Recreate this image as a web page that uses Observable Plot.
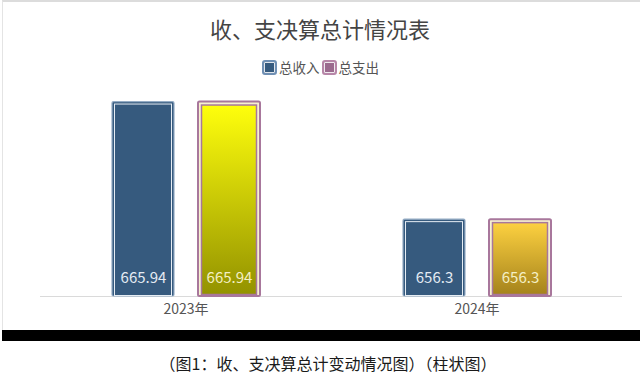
<!DOCTYPE html>
<html><head><meta charset="utf-8">
<script src="https://cdn.jsdelivr.net/npm/d3@7"></script>
<script src="https://cdn.jsdelivr.net/npm/@observablehq/plot@0.6"></script>
<style>
body{margin:0;background:#fff;font-family:"Noto Sans CJK SC","Noto Sans",sans-serif;}
#wrap{position:relative;width:640px;height:382px;overflow:hidden;background:#fff;}
#card{position:absolute;left:2px;top:0;width:638px;height:330px;border-top:2px solid #dcdcdc;border-left:1px solid #e4e4e4;box-sizing:border-box;}
#band{position:absolute;left:2px;top:330px;width:638px;height:11px;background:#000;}
#chart{position:absolute;left:0;top:0;}
#title{position:absolute;top:17px;left:0;width:640px;text-align:center;font-size:22px;line-height:22px;color:#444;}
#legend{position:absolute;top:60px;left:0;width:640px;display:flex;justify-content:center;align-items:center;font-size:13.5px;line-height:15px;color:#555;padding-left:1px;box-sizing:border-box;}
#legend .it{display:flex;align-items:center;margin:0 1px;}
#legend .ic{width:15px;height:15px;box-sizing:border-box;border-radius:3px;margin-right:2px;}
#caption{position:absolute;top:354px;left:8px;width:640px;text-align:center;font-size:16px;line-height:18px;color:#1a1a1a;}
</style></head>
<body>
<div id="wrap">
  <div id="card"></div>
  <div id="chart"></div>
  <div id="title"></div>
  <div id="legend"></div>
  <div id="band"></div>
  <div id="caption"></div>
</div>
<script>
const titleText = "收、支决算总计情况表";
const captionText = "（图1：收、支决算总计变动情况图）（柱状图）";
const years = ["2023年", "2024年"];
const seriesNames = ["总收入", "总支出"];
const incomeValues = [665.94, 656.3];
const expenseValues = [665.94, 656.3];
const seriesColors = ["#365a7e", "#9b6a8e"];
const legendBorders = ["#6f8fb3", "#b786a8"];
const gradTop = ["#ffff0c", "#fdd140"];
const gradBottom = ["#939200", "#a5831c"];
const yMin = 650, yMax = 670;

document.getElementById("title").textContent = titleText;
document.getElementById("caption").textContent = captionText;

const legend = document.getElementById("legend");
seriesNames.forEach((s, i) => {
  const it = document.createElement("div"); it.className = "it";
  const ic = document.createElement("div"); ic.className = "ic";
  ic.style.background = seriesColors[i];
  ic.style.border = "2px solid " + legendBorders[i];
  ic.style.boxShadow = "inset 0 0 0 1px rgba(255,255,255,0.85)";
  const tx = document.createElement("span"); tx.textContent = s;
  it.appendChild(ic); it.appendChild(tx); legend.appendChild(it);
});

const data = [];
years.forEach((y, i) => {
  data.push({year: y, series: seriesNames[0], value: incomeValues[i], idx: i});
  data.push({year: y, series: seriesNames[1], value: expenseValues[i], idx: i});
});
const inc = data.filter(d => d.series === seriesNames[0]);
const exp = data.filter(d => d.series === seriesNames[1]);

const chart = Plot.plot({
  width: 640,
  height: 330,
  marginLeft: 39,
  marginRight: 18,
  marginTop: 52,
  marginBottom: 34,
  style: {background: "transparent", fontFamily: "'Noto Sans CJK SC', sans-serif", overflow: "visible"},
  fx: {domain: years, padding: 0, label: null},
  x: {domain: seriesNames, paddingInner: 0.283, paddingOuter: 0.827, axis: null},
  y: {domain: [yMin, yMax], axis: null},
  marks: [
    Plot.ruleY([yMin], {stroke: "#dadada", strokeWidth: 1}),
    // income bars
    Plot.barY(inc, {fx: "year", x: "series", y1: () => yMin, y2: "value",
      fill: seriesColors[0], stroke: "#93abc4", strokeWidth: 1.2, rx: 1.5}),
    Plot.barY(inc, {fx: "year", x: "series", y1: () => yMin, y2: "value",
      insetLeft: 2.5, insetRight: 2.5, insetTop: 2.5, insetBottom: 0.5,
      fill: "none", stroke: "#e6edf4", strokeWidth: 1}),
    // expense bars
    Plot.barY(exp, {fx: "year", x: "series", y1: () => yMin, y2: "value",
      fill: "#f7f1cf", stroke: "#a8779c", strokeWidth: 2, rx: 1.5}),
    Plot.barY(exp, {fx: "year", x: "series", y1: () => yMin, y2: "value",
      insetLeft: 3.5, insetRight: 3.5, insetTop: 3.5, insetBottom: 1.5,
      fill: d => `url(#grad${d.idx})`, stroke: "#a8779c", strokeWidth: 1.5}),
    Plot.text(data, {fx: "year", x: "series", y: () => yMin, text: d => String(d.value),
      dy: -18, fontSize: 15, fill: d => d.series === seriesNames[0] ? "#e4ebf3" : "#f4efc4"}),
    Plot.axisFx({anchor: "bottom", tickSize: 0, tickPadding: 8, fontSize: 14, color: "#555", label: null})
  ]
});

const svg = d3.select(chart);
const defs = svg.insert("defs", ":first-child");
years.forEach((y, i) => {
  const g = defs.append("linearGradient").attr("id", "grad" + i)
    .attr("x1", 0).attr("y1", 0).attr("x2", 0).attr("y2", 1);
  g.append("stop").attr("offset", "0%").attr("stop-color", gradTop[i]);
  g.append("stop").attr("offset", "100%").attr("stop-color", gradBottom[i]);
});
document.getElementById("chart").appendChild(chart);
</script>
</body></html>
